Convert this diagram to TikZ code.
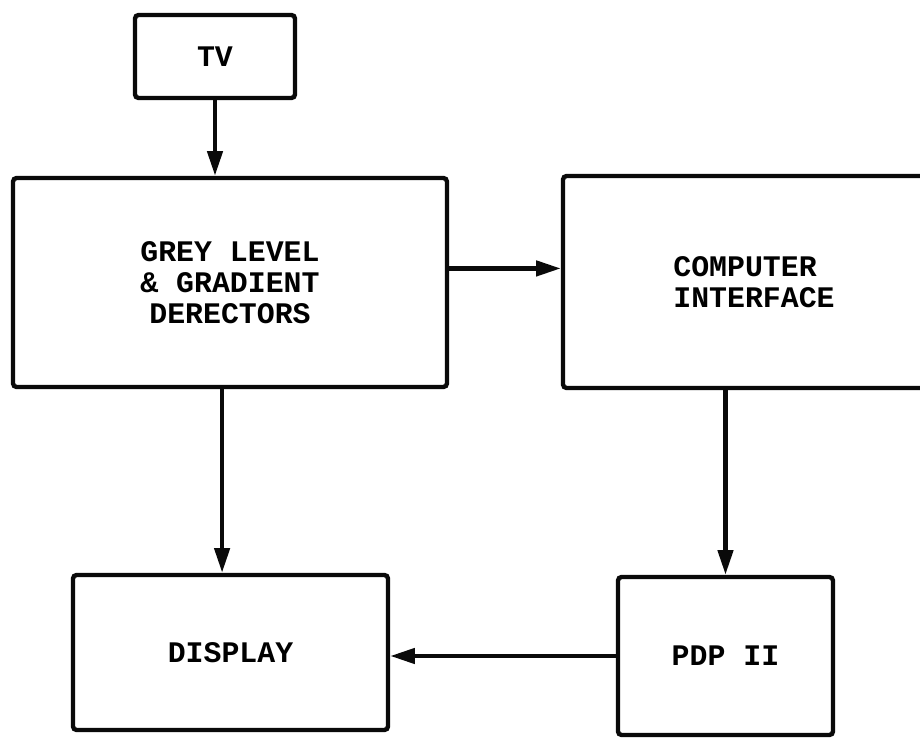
\documentclass[tikz,border=0pt]{standalone}
\usepackage{fontspec}
\setmonofont{Liberation Mono}
\usepackage{tikz}
\usetikzlibrary{arrows.meta, positioning}
\definecolor{inkdark}{RGB}{10,10,10}
\tikzset{
  unit/.style={rectangle, draw=inkdark, line width=2.5pt, rounded corners=2pt,
    font=\ttfamily\bfseries\fontsize{17}{17.5}\selectfont, align=center, inner sep=0pt},
  arrow/.style={-{Triangle[length=14pt, width=8.5pt]}, line width=2.5pt, color=inkdark}
}
\begin{document}
\begin{tikzpicture}[x=0.02cm, y=-0.02cm]
  \path[use as bounding box, clip] (0,0) rectangle (920,739);
  % Camera
  \node[unit, minimum width=3.2cm, minimum height=1.66cm] (tv) at (215,56.5) {TV};
  % Detector stage
  \node[unit, minimum width=8.68cm, minimum height=4.18cm] (grey) at (230,282.5)
    {GREY LEVEL\\\& GRADIENT\\DERECTORS};
  % Interface (runs off the right edge)
  \node[unit, minimum width=7.64cm, minimum height=4.24cm, align=left] (iface) at (754,282)
    {COMPUTER\\INTERFACE};
  % Output side
  \node[unit, minimum width=6.3cm, minimum height=3.1cm] (display) at (230.5,652.5) {DISPLAY};
  \node[unit, minimum width=4.3cm, minimum height=3.16cm] (pdp) at (725.5,656) {PDP II};

  \draw[arrow] (tv.south) -- (tv.south |- grey.north);
  \draw[arrow] ([yshift=8pt]grey.east) -- ([yshift=8pt]grey.east -| iface.west);
  \draw[arrow] ([xshift=-4.5pt]grey.south) -- ([xshift=-4.5pt]grey.south |- display.north);
  \draw[arrow] (pdp.north |- iface.south) -- (pdp.north);
  \draw[arrow] (pdp.west) -- (pdp.west -| display.east);
\end{tikzpicture}
\end{document}
